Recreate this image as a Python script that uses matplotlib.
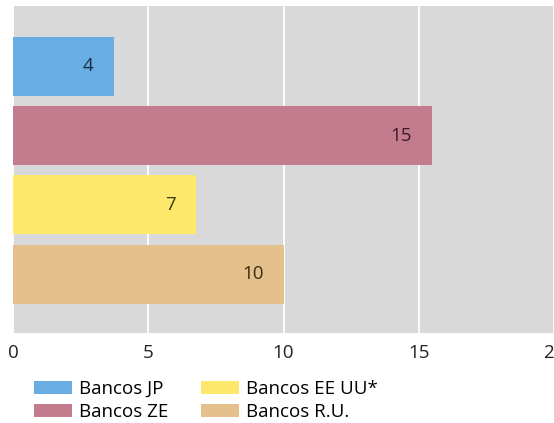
import matplotlib.pyplot as plt
from matplotlib.patches import Patch

plt.rcParams['font.family'] = ['Open Sans', 'DejaVu Sans']

# bancos y valores (el rótulo muestra el valor redondeado)
bancos = ["Bancos JP", "Bancos ZE", "Bancos EE UU*", "Bancos R.U."]
valores = [3.72, 15.48, 6.76, 10.0]
colores = ["#68ade3", "#c27c8d", "#fee86c", "#e4c08d"]
colores_texto = ["#1c2c44", "#3c1c28", "#3a3612", "#3c2c14"]
ticks_x = [0, 5, 10, 15, 20]

fig = plt.figure(figsize=(5.54, 4.23), dpi=100)
ax = fig.add_axes([13 / 554, 1 - 333 / 423, 1 - 13 / 554, 327 / 423])
ax.set_facecolor("#d9d9d9")

pos = list(range(len(bancos)))
ax.barh(pos, valores, height=0.85, color=colores, zorder=2)

for p, v, c in zip(pos, valores, colores_texto):
    ax.annotate(f"{v:.0f}", xy=(v, p), xytext=(-14.5, 0), textcoords="offset points",
                ha="right", va="center", fontsize=13.5, color=c, zorder=3)

ax.set_xlim(0, 19.8)
ax.set_ylim(3.85, -0.87)
ax.set_xticks(ticks_x)
ax.set_yticks([])
ax.grid(axis="x", color="white", linewidth=1.3, zorder=1)
ax.tick_params(axis="x", length=0, labelsize=13.5, pad=8, colors="#222222")
for s in ax.spines.values():
    s.set_visible(False)

handles = [Patch(facecolor=c, label=b) for c, b in zip(colores, bancos)]
fig.legend(handles=handles, ncol=2, loc="upper left",
           bbox_to_anchor=(34 / 554, 1 - 380 / 423), borderpad=0, borderaxespad=0,
           frameon=False, fontsize=13.5, handlelength=2.0, handleheight=0.7,
           labelspacing=0.25, columnspacing=1.75, handletextpad=0.4)

plt.savefig("out.png", dpi=100)
